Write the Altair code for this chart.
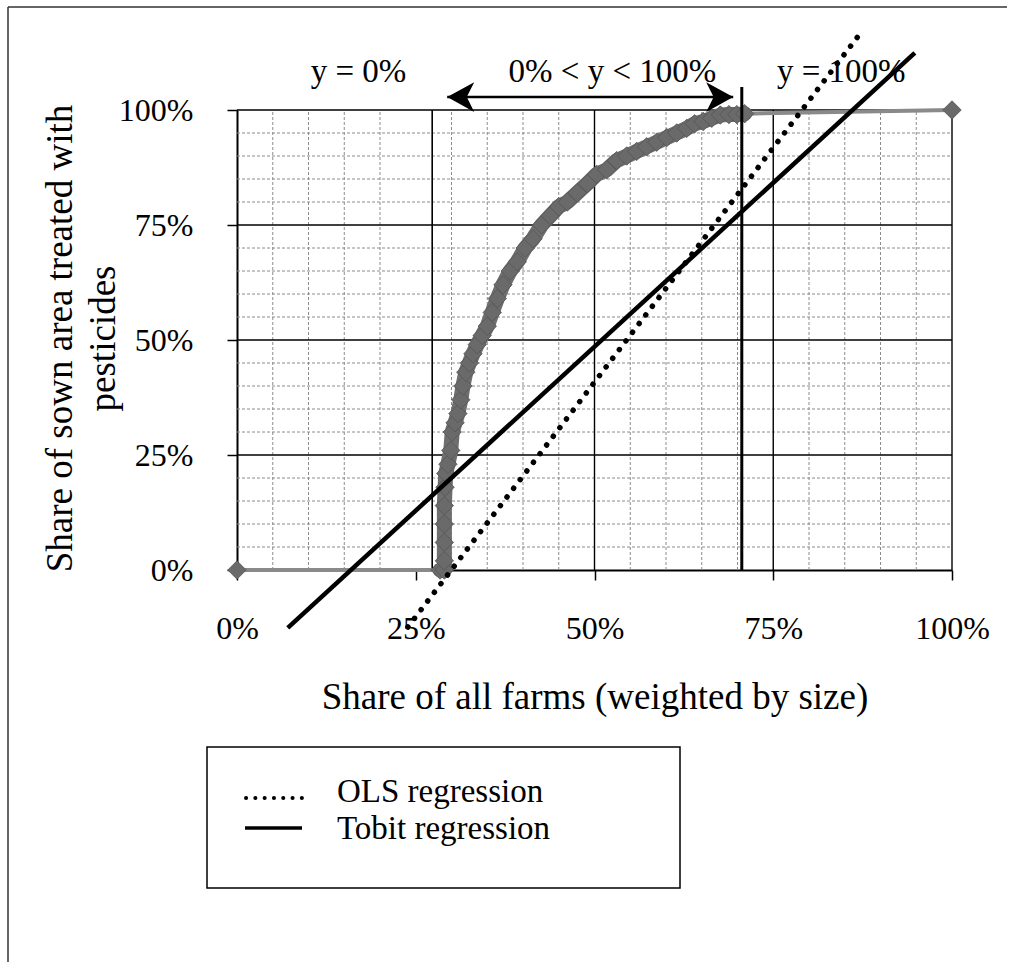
import altair as alt
import pandas as pd

# ---------------- data (all values in percent) ----------------
farm_share = [0, 28.4, 29.0, 29.0, 29.0, 29.0, 29.0, 29.1, 29.2, 29.5, 29.9, 30.1,
              30.5, 30.9, 31.3, 31.6, 32.0, 32.5, 33.0, 33.6, 34.3, 35.0, 35.7,
              36.4, 37.2, 38.2, 39.2, 40.3, 41.4, 42.6, 43.8, 45.0, 46.2, 47.6,
              49.0, 50.3, 51.7, 53.1, 54.5, 55.9, 57.3, 58.7, 60.1, 61.5, 62.9,
              64.0, 65.2, 66.4, 67.6, 68.8, 69.9, 71.0, 100]
treated_share = [0, 0, 0, 2, 6, 10, 14, 18, 21, 23, 26, 30,
                 32, 34, 37, 40, 43, 45, 47, 49, 51, 53, 56,
                 59, 62, 65, 67, 70, 72, 75, 77, 79, 80, 82,
                 84, 86, 87, 89, 90, 91, 92, 93, 94, 95, 96,
                 97, 97.5, 98.2, 98.9, 99, 99, 99.2, 100]

tobit_x = [7.1, 94.8]
tobit_y = [-12.6, 112.4]
ols_x = [23.9, 87.1]
ols_y = [-12.4, 116.5]

lower_boundary = [27.3]
upper_boundary = [70.6]
upper_boundary_top = [105.0]

arrow_x = [29.4, 69.4]
arrow_y = [102.8, 102.8]

tick_values = [0, 25, 50, 75, 100]
minor_grid = [5, 10, 15, 20, 30, 35, 40, 45, 55, 60, 65, 70, 80, 85, 90, 95]
major_grid_x = [50, 75, 100]
major_grid_y = [25, 50, 75, 100]

region_labels = ["y = 0%", "0% < y < 100%", "y = 100%"]
region_label_x = [17.0, 52.5, 84.5]
region_label_y = [106.1, 106.1, 106.1]

legend_labels = ["OLS regression", "Tobit regression"]
x_title = "Share of all farms (weighted by size)"
y_title = ["Share of sown area treated with", "pesticides"]

FONT = "Liberation Serif"
FS = 32
TFS = 37

sx = alt.Scale(domain=[0, 100], nice=False, zero=False)
sy = alt.Scale(domain=[0, 100], nice=False, zero=False)

x_axis = alt.Axis(
    values=tick_values, labelExpr="datum.value + '%'", grid=False, zindex=0,
    domainColor="black", domainWidth=2, tickColor="black", tickWidth=1.5, tickSize=10,
    labelFont=FONT, labelFontSize=FS, labelColor="black", labelPadding=58,
    labelBaseline="alphabetic", labelFlush=False, labelOverlap=False,
    title=x_title, titleFont=FONT, titleFontSize=TFS, titleFontWeight="normal",
    titleColor="black", titleBaseline="alphabetic", titleY=138, titleX=357.5,
    titleAlign="center", titleAnchor="middle",
)
y_axis = alt.Axis(
    values=tick_values, labelExpr="datum.value + '%'", grid=False, zindex=0,
    domainColor="black", domainWidth=2, tickColor="black", tickWidth=1.5, tickSize=10,
    labelFont=FONT, labelFontSize=FS, labelColor="black", labelPadding=34,
    labelFlush=False, labelOverlap=False,
    title=y_title, titleFont=FONT, titleFontSize=TFS, titleFontWeight="normal",
    titleColor="black", titleAngle=270, titleBaseline="middle", titleLineHeight=43,
    titleX=-177, titleY=228, titleAlign="center", titleAnchor="middle",
)


def X(f):
    return alt.X(f, type="quantitative", scale=sx, axis=x_axis)


def Y(f):
    return alt.Y(f, type="quantitative", scale=sy, axis=y_axis)


one = pd.DataFrame({"k": [0]})
series = pd.DataFrame({"x": farm_share, "y": treated_share, "i": range(len(farm_share))})

# ---------------- grid ----------------
vminor = alt.Chart(pd.DataFrame({"x": minor_grid, "y0": 0, "y1": 100})).mark_rule(
    color="#8c8c8c", strokeWidth=1, strokeDash=[3, 2]
).encode(x=X("x"), y=Y("y0"), y2="y1")

hminor = alt.Chart(pd.DataFrame({"y": minor_grid, "x0": 0, "x1": 100})).mark_rule(
    color="#8c8c8c", strokeWidth=1, strokeDash=[3, 2]
).encode(y=Y("y"), x=X("x0"), x2="x1")

vmajor = alt.Chart(pd.DataFrame({"x": major_grid_x, "y0": 0, "y1": 100})).mark_rule(
    color="black", strokeWidth=1.4
).encode(x=X("x"), y=Y("y0"), y2="y1")

hmajor = alt.Chart(pd.DataFrame({"y": major_grid_y, "x0": 0, "x1": 100})).mark_rule(
    color="black", strokeWidth=1.4
).encode(y=Y("y"), x=X("x0"), x2="x1")

low_b = alt.Chart(pd.DataFrame({"x": lower_boundary, "y0": 0, "y1": 100})).mark_rule(
    color="black", strokeWidth=1.6
).encode(x=X("x"), y=Y("y0"), y2="y1")

# ---------------- data series ----------------
thin = alt.Chart(series).mark_line(color="#8a8a8a", strokeWidth=4).encode(
    x=X("x"), y=Y("y"), order="i:Q"
)

band = alt.Chart(series.iloc[1:-1]).mark_line(
    color="#6e6e6e", strokeWidth=15, strokeJoin="round", strokeCap="round"
).encode(x=X("x"), y=Y("y"), order="i:Q")

diamonds = alt.Chart(series).mark_point(
    shape="diamond", filled=True, size=340, color="#6a6a6a", opacity=1,
    stroke="#555555", strokeWidth=0.8
).encode(x=X("x"), y=Y("y"))

up_b = alt.Chart(pd.DataFrame({"x": upper_boundary, "y0": 0, "y1": upper_boundary_top})).mark_rule(
    color="black", strokeWidth=3
).encode(x=X("x"), y=Y("y0"), y2="y1")

# ---------------- regressions ----------------
tobit = alt.Chart(pd.DataFrame({"x": tobit_x, "y": tobit_y})).mark_line(
    color="black", strokeWidth=4.5
).encode(x=X("x"), y=Y("y"))

ols = alt.Chart(pd.DataFrame({"x": ols_x, "y": ols_y})).mark_line(
    color="black", strokeWidth=5.5, strokeDash=[0.1, 10.8], strokeCap="round"
).encode(x=X("x"), y=Y("y"))

# ---------------- annotations ----------------
arrow_df = pd.DataFrame({"x": arrow_x, "y": arrow_y})
shaft = alt.Chart(arrow_df).mark_line(color="black", strokeWidth=2.5).encode(
    x=X("x"), y=Y("y")
)
head_left = alt.Chart(arrow_df.iloc[[0]]).mark_point(
    shape="M0,0L2,-1.1L1.45,0L2,1.1Z", filled=True, size=729, color="black", opacity=1
).encode(x=X("x"), y=Y("y"))
head_right = alt.Chart(arrow_df.iloc[[1]]).mark_point(
    shape="M0,0L-2,-1.1L-1.45,0L-2,1.1Z", filled=True, size=729, color="black", opacity=1
).encode(x=X("x"), y=Y("y"))

regions = alt.Chart(pd.DataFrame({"t": region_labels, "x": region_label_x, "y": region_label_y})).mark_text(
    font=FONT, fontSize=33, color="black", baseline="alphabetic", align="center"
).encode(x=X("x"), y=Y("y"), text="t:N")

# ---------------- legend ----------------
legend_box = alt.Chart(one).mark_rect(
    fillOpacity=0, stroke="black", strokeWidth=1.5
).encode(x=alt.value(-30), x2=alt.value(443), y=alt.value(637), y2=alt.value(778))

leg_ols = alt.Chart(one).mark_rule(
    color="black", strokeWidth=4, strokeDash=[0.1, 9.2], strokeCap="round"
).encode(x=alt.value(9), x2=alt.value(66), y=alt.value(688))
leg_tobit = alt.Chart(one).mark_rule(color="black", strokeWidth=3.5).encode(
    x=alt.value(8), x2=alt.value(65), y=alt.value(718)
)
leg_t1 = alt.Chart(one).mark_text(
    font=FONT, fontSize=33, color="black", align="left", baseline="alphabetic"
).encode(x=alt.value(100), y=alt.value(692), text=alt.value(legend_labels[0]))
leg_t2 = alt.Chart(one).mark_text(
    font=FONT, fontSize=33, color="black", align="left", baseline="alphabetic"
).encode(x=alt.value(100), y=alt.value(729), text=alt.value(legend_labels[1]))

# ---------------- outer frame ----------------
frame_top = alt.Chart(one).mark_rule(color="#333333", strokeWidth=1.5).encode(
    x=alt.value(-229), x2=alt.value(770), y=alt.value(-103)
)
frame_left = alt.Chart(one).mark_rule(color="#333333", strokeWidth=1.5).encode(
    x=alt.value(-229), y=alt.value(-103), y2=alt.value(852)
)

chart = alt.layer(
    vminor, hminor, vmajor, hmajor, low_b,
    thin, band, diamonds, up_b,
    tobit, ols, shaft, head_left, head_right, regions,
    legend_box, leg_ols, leg_tobit, leg_t1, leg_t2,
    frame_top, frame_left,
).properties(
    width=715, height=460,
    padding={"left": 237, "top": 110, "right": 62, "bottom": 392},
    autosize=alt.AutoSizeParams(type="none"),
    background="white",
).configure_view(stroke=None)

chart.save("out.html", embed_options={"renderer": "svg", "actions": False})
